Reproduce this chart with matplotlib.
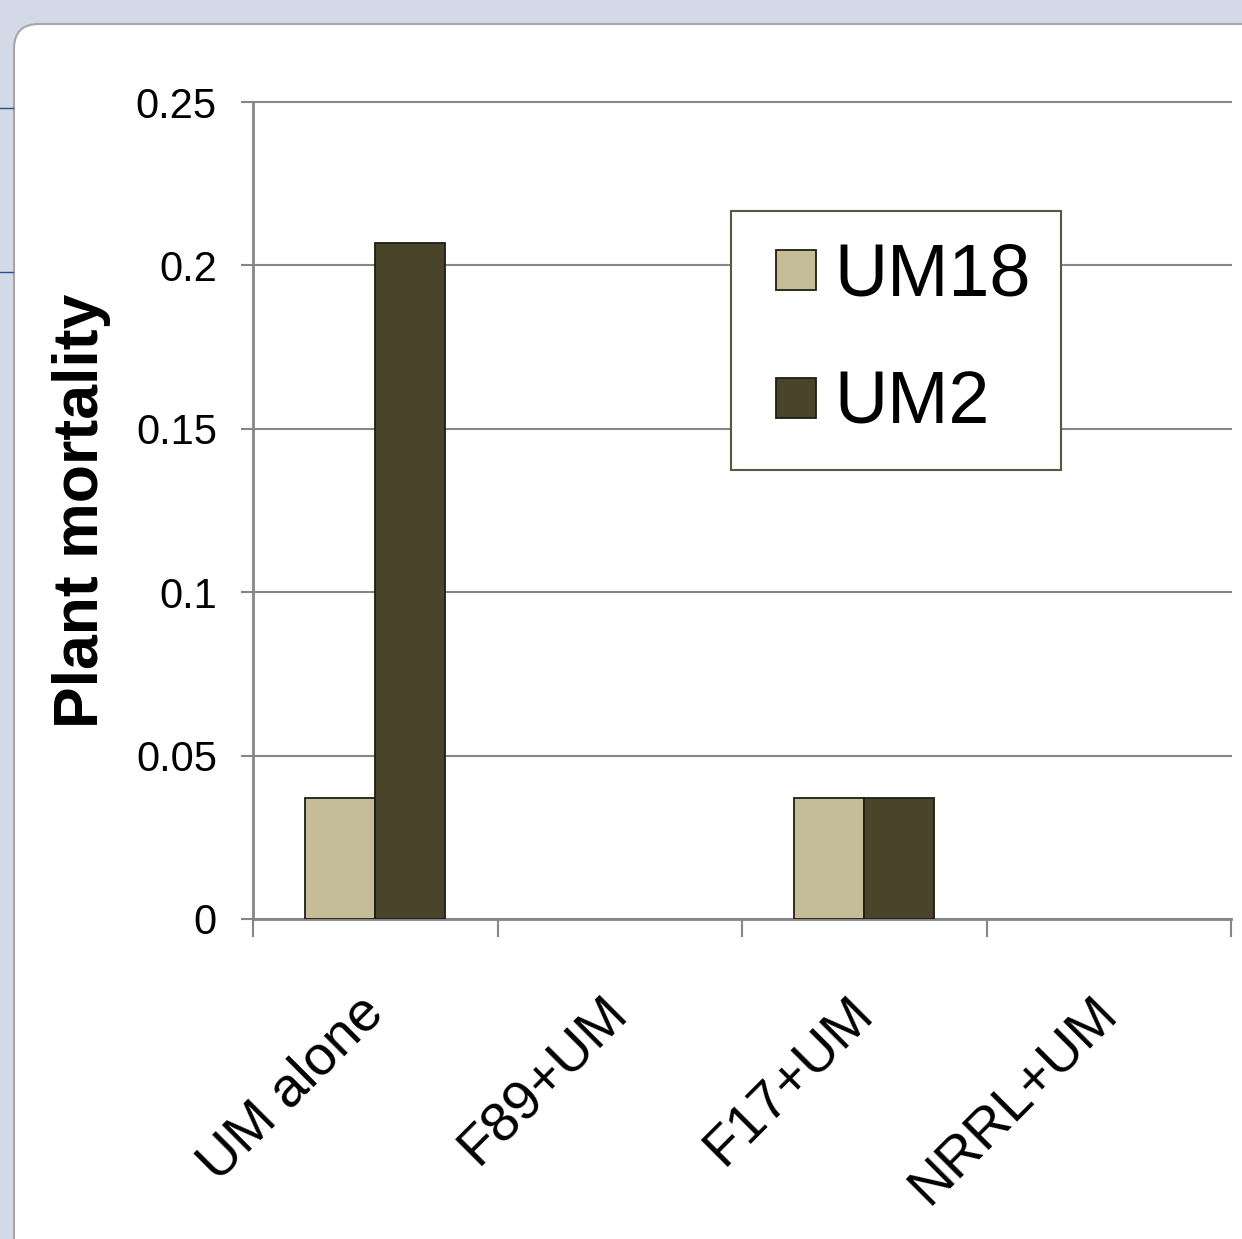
import numpy as np
import matplotlib
matplotlib.use("Agg")
import matplotlib.pyplot as plt
from matplotlib.patches import FancyBboxPatch, Rectangle
from matplotlib.lines import Line2D
from matplotlib.container import BarContainer
from matplotlib.legend_handler import HandlerPatch, update_from_first_child

plt.rcParams['font.family'] = ['Liberation Sans', 'DejaVu Sans']

# Data
categories = ["UM alone", "F89+UM", "F17+UM", "NRRL+UM"]
um18 = [0.037, 0.0, 0.037, 0.0]
um2 = [0.207, 0.0, 0.037, 0.0]
y_ticks = [0, 0.05, 0.1, 0.15, 0.2, 0.25]
y_tick_labels = ["0", "0.05", "0.1", "0.15", "0.2", "0.25"]

W, H = 1242, 1239
fig = plt.figure(figsize=(W / 100, H / 100), dpi=100)
fig.patch.set_facecolor('#d3d9e7')

# White slide panel with rounded corner
panel = FancyBboxPatch((14 / W, -0.02), 1.2, (H - 24) / H + 0.02,
                       boxstyle='round,pad=0,rounding_size=0.02',
                       transform=fig.transFigure, facecolor='white',
                       edgecolor='#a6a6a6', linewidth=1.5, zorder=-10)
fig.patches.append(panel)
for yy in (108, 272):
    fig.add_artist(Line2D([0, 13 / W], [1 - yy / H] * 2, color='#2a4f8f',
                          linewidth=1, transform=fig.transFigure, zorder=-9))

ax = fig.add_axes([253 / W, 1 - 919 / H, (1231 - 253) / W, 817 / H])
ax.set_facecolor('none')

x = np.arange(len(categories))
w = 0.287


def edge_colors(vals):
    # empty bars get no outline
    return ['#1e1e14' if v > 0 else 'none' for v in vals]


ax.bar(x - w / 2, um18, w, color='#c4bd97', edgecolor=edge_colors(um18),
       linewidth=1.3, label='UM18', zorder=3)
ax.bar(x + w / 2, um2, w, color='#4a452a', edgecolor=edge_colors(um2),
       linewidth=1.3, label='UM2', zorder=3)

ax.set_xlim(-0.5, len(categories) - 0.5)
ax.set_ylim(0, 0.25)
ax.set_yticks(y_ticks)
ax.set_yticklabels(y_tick_labels)
ax.yaxis.grid(True, color='#868686', linewidth=1.5, zorder=0)
for gl in ax.get_ygridlines():
    gl.set_clip_on(False)

for s in ('top', 'right'):
    ax.spines[s].set_visible(False)
for s in ('left', 'bottom'):
    ax.spines[s].set_color('#868686')
    ax.spines[s].set_linewidth(2)

ax.tick_params(axis='y', length=9, width=1.5, color='#868686', pad=17,
               labelsize=30)
ax.set_xticks(x)
ax.set_xticklabels(categories, rotation=45, ha='right', va='center',
                   rotation_mode='anchor')
ax.tick_params(axis='x', which='major', length=0, pad=62, labelsize=40)
ax.set_xticks(np.arange(len(categories) + 1) - 0.5, minor=True)
ax.tick_params(axis='x', which='minor', length=13, width=1.5,
               color='#868686', direction='out')

ax.set_ylabel('Plant mortality', fontsize=45, fontweight='bold')
ax.yaxis.label.set_va('center')
ax.yaxis.set_label_coords((82 - 253) / 978, 0.5)


def square_patch(legend, orig_handle, xdescent, ydescent, width, height,
                 fontsize):
    # square swatch at the right end of the handle box, centred vertically
    side = legend.handleheight * fontsize
    return Rectangle((-xdescent + width - side,
                      -ydescent + (height - side) / 2), side, side)


leg = ax.legend(loc='upper left', bbox_to_anchor=(731 / W, 1 - 211 / H),
                bbox_transform=fig.transFigure, fontsize=53,
                frameon=True, fancybox=False, borderaxespad=0,
                handlelength=0.73, handleheight=0.54, handletextpad=0.25,
                borderpad=0.42, labelspacing=0.8,
                handler_map={BarContainer: HandlerPatch(
                    patch_func=square_patch,
                    update_func=update_from_first_child)})
leg.get_frame().set_edgecolor('#5a5640')
leg.get_frame().set_linewidth(1.5)
leg.get_frame().set_facecolor('white')
leg.get_frame().set_alpha(1)

fig.savefig('out.png', dpi=100, facecolor=fig.get_facecolor())
